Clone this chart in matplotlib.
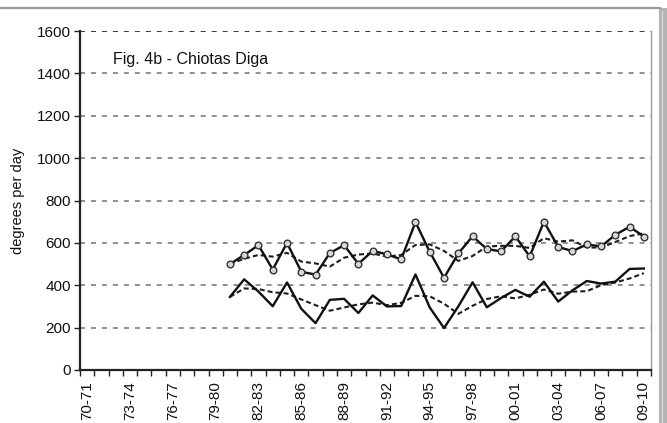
import numpy as np
import matplotlib
matplotlib.use("Agg")
import matplotlib.pyplot as plt
from matplotlib.lines import Line2D
from matplotlib.patches import Rectangle

plt.rcParams['font.family'] = ['Liberation Sans', 'DejaVu Sans']
plt.rcParams['lines.scale_dashes'] = False

seasons = ["70-71", "71-72", "72-73", "73-74", "74-75", "75-76", "76-77", "77-78",
           "78-79", "79-80", "80-81", "81-82", "82-83", "83-84", "84-85", "85-86",
           "86-87", "87-88", "88-89", "89-90", "90-91", "91-92", "92-93", "93-94",
           "94-95", "95-96", "96-97", "97-98", "98-99", "99-00", "00-01", "01-02",
           "02-03", "03-04", "04-05", "05-06", "06-07", "07-08", "08-09", "09-10"]

# serie dal 80-81 al 09-10
upper = [500, 543, 589, 474, 600, 464, 450, 552, 589, 501, 562, 546, 522, 698, 558,
         435, 550, 631, 571, 560, 631, 536, 700, 581, 561, 593, 583, 638, 676, 630]
lower = [345, 428, 370, 301, 413, 289, 221, 331, 336, 269, 352, 300, 302, 451, 295,
         198, 300, 414, 296, 340, 378, 346, 417, 323, 376, 420, 408, 417, 477, 479]

# medie mobili (tratteggiate)
upper_avg = [500, 525, 543, 535, 553, 512, 503, 488, 530, 545, 550, 535, 543, 590, 593,
             562, 515, 538, 583, 586, 586, 576, 622, 606, 612, 578, 578, 604, 632, 645]
lower_avg = [345, 385, 382, 367, 361, 333, 306, 280, 295, 310, 318, 306, 317, 350, 348,
             313, 265, 303, 335, 348, 338, 355, 380, 360, 370, 372, 400, 413, 432, 457]

yticks = [0, 200, 400, 600, 800, 1000, 1200, 1400, 1600]

fig = plt.figure(figsize=(6.67, 4.23), dpi=100)
ax = fig.add_axes([0.12, 0.1253, 0.856, 0.8014])

pos = np.arange(len(seasons))
xs = pos[len(seasons) - len(upper):]

# griglia orizzontale tratteggiata
for yv in yticks[1:]:
    col = "#3a3a3a" if yv == 1600 else "#909090"
    ax.axhline(yv, color=col, lw=1.4, ls=(0, (3.6, 4.3)), zorder=1)

ax.plot(xs, upper_avg, color="#1e1e1e", lw=1.5, ls=(0, (3.6, 2.2)), zorder=3)
ax.plot(xs, lower_avg, color="#1e1e1e", lw=1.5, ls=(0, (3.6, 2.2)), zorder=3)
ax.plot(xs, upper, color="#111111", lw=1.7, marker="o", ms=4.8,
        mfc="#d8d8d8", mec="#333333", mew=1.0, zorder=4)
ax.plot(xs, lower, color="#111111", lw=1.7, zorder=4)

ax.set_xlim(-0.5, len(seasons) - 0.5)
ax.set_ylim(0, 1600)
ax.set_yticks(yticks)
ax.set_yticklabels([str(v) for v in yticks], fontsize=11, color="#111111")

ax.set_xticks(pos[::3])
ax.set_xticklabels(seasons[::3], rotation=90, fontsize=11, color="#111111")
ax.set_xticks(np.arange(-0.5, len(seasons)), minor=True)
ax.tick_params(axis="x", which="major", length=0, pad=8)
ax.tick_params(axis="x", which="minor", length=4.5, width=1.0, direction="out", color="#222222")
ax.tick_params(axis="y", length=4.5, width=1.0, direction="out", pad=2, color="#222222")

ax.spines["top"].set_visible(False)
ax.spines["right"].set_color("#9a9a9a")
ax.spines["right"].set_linewidth(1.0)
ax.spines["left"].set_linewidth(1.6)
ax.spines["left"].set_color("#222222")
ax.spines["bottom"].set_linewidth(1.6)
ax.spines["bottom"].set_color("#222222")

ax.set_ylabel("degrees per day", fontsize=10.5, labelpad=9, color="#111111")
ax.text(0.058, 0.917, "Fig. 4b - Chiotas Diga", transform=ax.transAxes,
        fontsize=11.5, color="#111111", va="center", ha="left")

# cornice grigia dell'immagine
fig.add_artist(Line2D([0, 0.99], [0.981, 0.981], transform=fig.transFigure,
                      color="#9c9c9c", lw=1.6))
fig.add_artist(Rectangle((659 / 667, 0), 8 / 667, 0.981, transform=fig.transFigure,
                         facecolor="#b4b4b4", edgecolor="none"))
fig.add_artist(Line2D([661.5 / 667, 661.5 / 667], [0, 0.975], transform=fig.transFigure,
                      color="#dcdcdc", lw=0.8))

fig.savefig("out.png", dpi=100)
